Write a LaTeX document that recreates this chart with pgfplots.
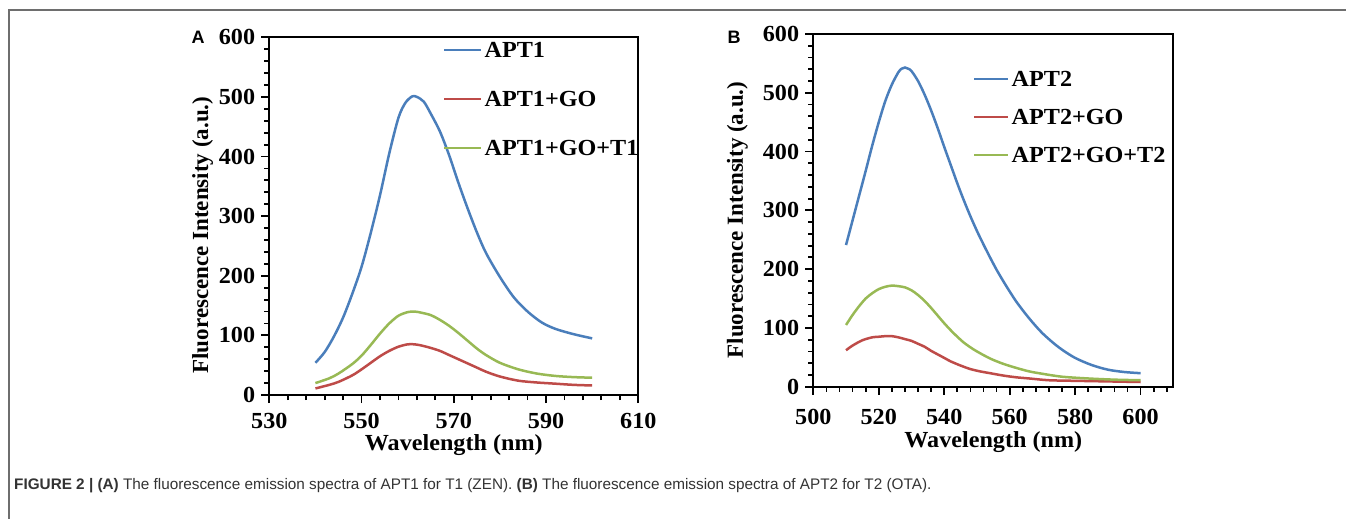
\documentclass[border=0pt]{standalone}
\usepackage{fontspec}
\setmainfont{Liberation Serif}
\newfontfamily\helv{Liberation Sans}
\newfontfamily\wideserif[FakeStretch=1.05]{Liberation Serif}
\usepackage{pgfplots}
\pgfplotsset{compat=1.18}
\definecolor{cblue}{HTML}{4A7EBB}
\definecolor{cred}{HTML}{BE4B48}
\definecolor{cgreen}{HTML}{98B954}
\definecolor{frame}{HTML}{6E6E6E}
\definecolor{captxt}{HTML}{333333}
\newcommand{\bigbf}{\fontsize{23bp}{26bp}\selectfont\bfseries}
\newcommand{\widebf}{\wideserif\fontsize{23bp}{26bp}\selectfont\bfseries}
\pgfplotsset{
  myax/.style={
    scale only axis,
    axis line style={line width=2.2bp},
    tick pos=left, tick align=outside,
    major tick length=8bp, minor tick length=5bp,
    tick style={line width=1.8bp, black},
    ymin=0, ymax=600, ytick={0,100,...,600}, minor ytick={20,40,...,580},
    /pgf/number format/assume math mode=true,
    ticklabel style={font=\widebf},
    yticklabel style={inner sep=0pt, anchor=east, xshift=-6bp},
    ylabel style={font=\bigbf},
    xlabel style={font=\widebf},
    ylabel={Fluorescence Intensity (a.u.)},
    xlabel={Wavelength (nm)},
    legend cell align=left,
    legend style={draw=none, fill=none, inner sep=0pt, column sep=2bp,
      font=\widebf, nodes={inner sep=0pt, anchor=west, text height=16bp, text depth=1bp}},
    every axis plot/.append style={line width=2.5bp, no markers, smooth},
  }
}
\begin{document}
\begin{tikzpicture}
\useasboundingbox (0bp,0bp) rectangle (1346bp,-519bp);
\draw[frame, line width=1.5bp] (9bp,-519bp) -- (9bp,-10bp) -- (1346bp,-10bp);
\node[anchor=center, font=\helv\fontsize{18bp}{20bp}\selectfont\bfseries] at (198bp,-37bp) {A};
\node[anchor=center, font=\helv\fontsize{18bp}{20bp}\selectfont\bfseries] at (734bp,-37bp) {B};
\node[anchor=west, inner sep=0pt, text=captxt, font=\helv\fontsize{15.3bp}{17bp}\selectfont] at (14bp,-486bp)
 {\textbf{FIGURE 2 | (A)} The fluorescence emission spectra of APT1 for T1 (ZEN). \textbf{(B)} The fluorescence emission spectra of APT2 for T2 (OTA).};

\begin{axis}[myax,
  at={(269.3bp,-395bp)}, anchor=south west,
  width=369bp, height=357.7bp,
  xmin=530, xmax=610, xtick={530,550,...,610}, minor xtick={534,538,...,606},
  xticklabel style={inner sep=0pt, anchor=north, yshift=-10bp},
  ylabel style={at={(axis description cs:-0.181,0.447)}, anchor=center},
  xlabel style={at={(axis description cs:0.5,-0.1095)}, anchor=north, inner sep=0pt},
  legend style={at={(axis description cs:0.4707,0.9883)}, anchor=north west, row sep=32bp},
  legend image code/.code={\draw[#1, line width=2.5bp] (0bp,0bp) -- (37bp,0bp);},
]
\addplot[cblue] coordinates {(540,54) (542,72) (544,98) (546,130) (548,170) (550,215) (552,272) (554,335) (556,405) (558,465) (559.5,490) (561,501) (562,500) (563.5,492) (565,472) (567,442) (569,402) (571,356) (573,313) (575,273) (577,238) (580,198) (583,164) (586,140) (589,122) (592,111) (596,102) (600,95)};
\addlegendentry{APT1}
\addplot[cred] coordinates {(540,11) (543,17) (545,22) (548,33) (550,43) (552,54) (554,65) (556,74) (558,81) (560,85) (561.5,85) (563,83) (565,79) (567,74) (569,67) (571,60) (573,53) (575,46) (577,39) (580,31) (584,24) (588,21) (592,19) (596,17) (600,16)};
\addlegendentry{APT1+GO}
\addplot[cgreen] coordinates {(540,20) (543,28) (545,36) (548,52) (550,66) (552,84) (554,103) (556,120) (558,133) (560,139) (561.5,140) (563,138) (565,134) (567,126) (569,116) (571,104) (573,91) (575,78) (577,67) (580,54) (584,43) (588,36) (592,32) (596,30) (600,29)};
\addlegendentry{APT1+GO+T1}
\end{axis}

\begin{axis}[myax,
  at={(813.3bp,-386.7bp)}, anchor=south west,
  width=360bp, height=352.7bp,
  xmin=500, xmax=610, xtick={500,520,...,600}, minor xtick={504,508,...,608},
  xticklabel style={inner sep=0pt, anchor=north, yshift=-14bp},
  ylabel style={at={(axis description cs:-0.2106,0.4726)}, anchor=center},
  xlabel style={at={(axis description cs:0.5,-0.1256)}, anchor=north, inner sep=0pt},
  legend style={at={(axis description cs:0.4436,0.8965)}, anchor=north west, row sep=21bp},
  legend image code/.code={\draw[#1, line width=2.5bp] (0bp,0bp) -- (34bp,0bp);},
]
\addplot[cblue] coordinates {(510,241) (512,283) (514,325) (516,367) (518,410) (520,450) (522,486) (524,514) (526,535) (527,541) (528,543) (529,541) (530,537) (532,520) (534,497) (536,470) (538,440) (540,408) (542,377) (544,346) (546,317) (548,290) (550,265) (552,242) (554,220) (556,199) (558,180) (560,162) (562,145) (564,130) (566,116) (568,103) (570,91) (573,76) (576,63) (580,49) (585,37) (590,29) (595,25) (600,23)};
\addlegendentry{APT2}
\addplot[cred] coordinates {(510,62) (512,70) (515,79) (518,84) (520,85) (522,86) (524,86) (526,84) (528,81) (530,78) (532,73) (534,68) (536,61) (538,55) (540,49) (542,43) (545,36) (548,30) (551,26) (554,23) (558,19) (562,16) (566,14) (572,11) (580,10) (590,9) (600,8)};
\addlegendentry{APT2+GO}
\addplot[cgreen] coordinates {(510,105) (512,122) (514,137) (516,150) (518,159) (520,166) (522,170) (524,172) (526,171) (528,169) (530,164) (532,156) (534,146) (536,134) (538,121) (540,108) (542,96) (544,85) (546,75) (548,67) (550,60) (554,48) (558,39) (562,32) (566,26) (570,22) (576,17) (584,14) (592,12) (600,11)};
\addlegendentry{APT2+GO+T2}
\end{axis}
\end{tikzpicture}
\end{document}
